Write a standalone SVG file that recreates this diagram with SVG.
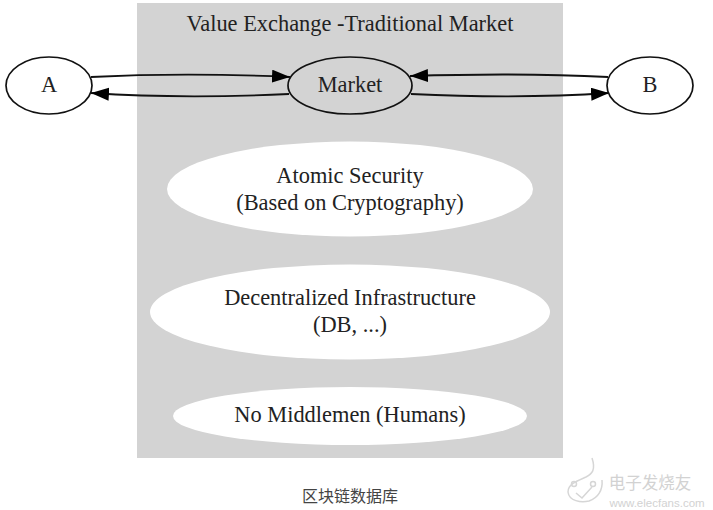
<svg xmlns="http://www.w3.org/2000/svg" width="713" height="510" viewBox="0 0 713 510">
<style>
.t{font-family:"Liberation Serif","Times New Roman",serif;font-size:22.4px;fill:#222;text-anchor:middle}
.n{stroke:#111;stroke-width:1.7}
.e{fill:none;stroke:#111;stroke-width:1.8}
.c{font-family:"Noto Sans CJK SC","Noto Sans",sans-serif;font-size:16px;fill:#444;text-anchor:middle}
.w{fill:none;stroke:#d6d6d6;stroke-width:1.5}
</style>
<defs><marker id="arr" markerUnits="userSpaceOnUse" markerWidth="19" markerHeight="14" refX="18" refY="6.500" orient="auto"><path d="M0 0L18 6.500L0 13Z" fill="#000"/></marker></defs>
<rect width="713" height="510" fill="#fff"/>
<g id="cluster"><rect x="137" y="3" width="426" height="455" fill="#d3d3d3"/><text class="t" x="350" y="31">Value Exchange -Traditional Market</text></g>
<g id="connectors">
<path class="e" marker-end="url(#arr)" d="M91 77C150 74 225 74 290 77"/>
<path class="e" marker-end="url(#arr)" d="M289 94C225 97 150 97 91 93"/>
<path class="e" marker-end="url(#arr)" d="M608 77C550 74 475 74 410 76"/>
<path class="e" marker-end="url(#arr)" d="M411 94C475 97 550 97 609 93"/>
</g>
<g id="A"><ellipse class="n" cx="49" cy="85.500" rx="43" ry="28.500" fill="#fff"/><text class="t" x="49" y="92">A</text></g>
<g id="Market"><ellipse class="n" cx="350" cy="85.500" rx="62" ry="28.500" fill="#d3d3d3"/><text class="t" x="350" y="92">Market</text></g>
<g id="B"><ellipse class="n" cx="650" cy="85.500" rx="43" ry="28.500" fill="#fff"/><text class="t" x="650" y="92">B</text></g>
<g id="atomic"><ellipse cx="350" cy="189" rx="183" ry="47.500" fill="#fff"/><text class="t" x="350" y="183">Atomic Security</text><text class="t" x="350" y="210">(Based on Cryptography)</text></g>
<g id="decentralized"><ellipse cx="350" cy="312" rx="200" ry="47.500" fill="#fff"/><text class="t" x="350" y="305">Decentralized Infrastructure</text><text class="t" x="350" y="332">(DB, ...)</text></g>
<g id="middlemen"><ellipse cx="350" cy="416" rx="177" ry="29" fill="#fff"/><text class="t" x="350" y="422">No Middlemen (Humans)</text></g>
<text class="c" x="350" y="502">区块链数据库</text>
<g id="watermark">
<path class="w" d="M592 458C596 470 592 474 586 477C577 481 568 484 568 492C569 501 581 503 589 501C598 498 603 490 602 480"/>
<circle class="w" cx="574" cy="484" r="2.500"/><circle class="w" cx="593" cy="484" r="2.500"/>
<path class="w" d="M576 493L582 498L592 487"/>
<text x="650" y="489" text-anchor="middle" font-family="'Noto Sans CJK SC',sans-serif" font-size="16.500" fill="#d2d2d2">电子发烧友</text>
<text x="657" y="507" text-anchor="middle" font-family="'Liberation Sans',sans-serif" font-size="11.500" fill="#d2d2d2">www.elecfans.com</text>
</g>
</svg>
